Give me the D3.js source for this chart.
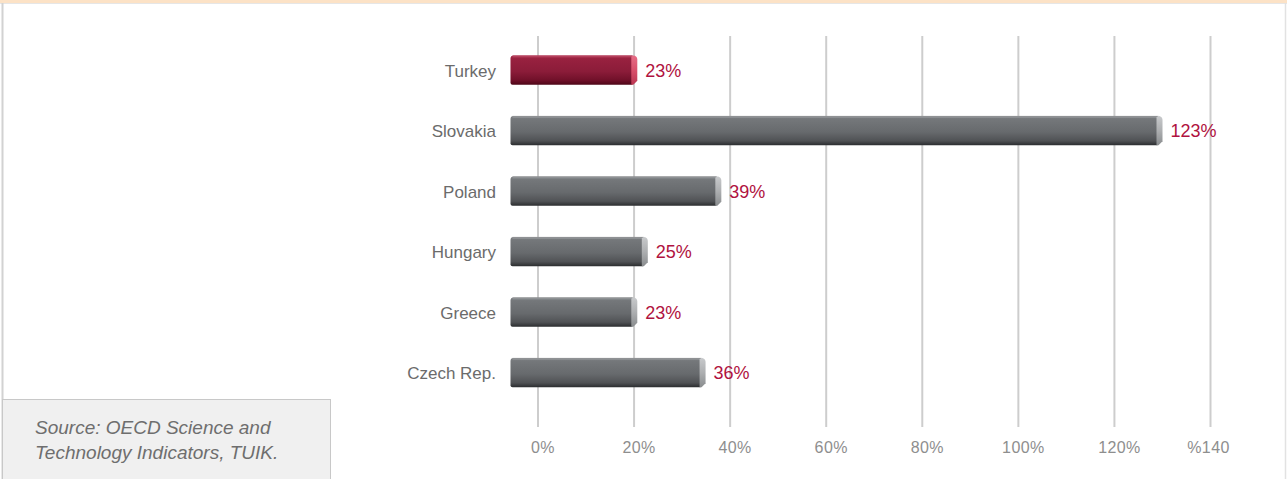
<!DOCTYPE html>
<html lang="en">
<head>
    <meta charset="UTF-8">
    <title>R&D spending growth</title>
    <style>
        body {
            margin: 0;
            background-color: #FFFFFF;
            font-family: "Liberation Sans", Arial, sans-serif;
        }
        svg {
            display: block;
        }
    </style>
</head>
<body>
    <div id="chart"></div>

    <script src="https://cdnjs.cloudflare.com/ajax/libs/d3/7.8.5/d3.min.js"></script>
    <script>
        // Data
        const countries = ["Turkey", "Slovakia", "Poland", "Hungary", "Greece", "Czech Rep."];
        const values = [23, 123, 39, 25, 23, 36];
        const tickValues = [0, 20, 40, 60, 80, 100, 120, 140];
        const tickLabels = ["0%", "20%", "40%", "60%", "80%", "100%", "120%", "%140"];
        const highlight = "Turkey";
        const sourceLines = ["Source: OECD Science and", "Technology Indicators, TUIK."];

        const width = 1287;
        const height = 479;

        const svg = d3.select("#chart")
            .append("svg")
            .attr("width", width)
            .attr("height", height);

        // frame: peach strip on top, thin gray borders
        svg.append("rect").attr("x", 0).attr("y", 0).attr("width", width).attr("height", 3).attr("fill", "#FCE2C6");
        svg.append("line").attr("x1", 0).attr("x2", width).attr("y1", 3.5).attr("y2", 3.5).attr("stroke", "#E6E6E6");
        svg.append("line").attr("x1", 2.5).attr("x2", 2.5).attr("y1", 3).attr("y2", height).attr("stroke", "#D2D2D2").attr("stroke-width", 2);
        svg.append("line").attr("x1", 1285.5).attr("x2", 1285.5).attr("y1", 3).attr("y2", height).attr("stroke", "#E2E2E2").attr("stroke-width", 1.5);

        // gradients
        const defs = svg.append("defs");
        function vGrad(id, stops) {
            const g = defs.append("linearGradient").attr("id", id)
                .attr("x1", 0).attr("x2", 0).attr("y1", 0).attr("y2", 1);
            stops.forEach(s => g.append("stop").attr("offset", s[0]).attr("stop-color", s[1]));
        }
        vGrad("grayFront", [[0, "#7E8184"], [0.12, "#74777A"], [0.55, "#676A6D"], [0.85, "#505255"], [1, "#2C2E30"]]);
        vGrad("graySide", [[0, "#C8CACC"], [0.5, "#ADAFB1"], [1, "#8A8D8F"]]);
        vGrad("redFront", [[0, "#A52B4A"], [0.12, "#98213F"], [0.55, "#8B1C39"], [0.85, "#701029"], [1, "#4F0718"]]);
        vGrad("redSide", [[0, "#E66D86"], [0.5, "#D9506B"], [1, "#BA3651"]]);

        // scales
        const x = d3.scaleLinear().domain([0, 140]).range([538, 1210.5]);
        // bars in the original are drawn on their own length scale
        const barLen = d3.scaleLinear().domain([0, 123]).range([0, 646]);
        const barX0 = 510.5;
        const y = d3.scaleBand().domain(countries).range([40.25, 403.25])
            .paddingInner(0.5).paddingOuter(0.25);

        // gridlines
        svg.append("g")
            .selectAll("line")
            .data(tickValues)
            .join("line")
            .attr("x1", d => x(d))
            .attr("x2", d => x(d))
            .attr("y1", 36)
            .attr("y2", 427)
            .attr("stroke", "#CDCDCD")
            .attr("stroke-width", 2);

        // tick labels
        svg.append("g")
            .selectAll("text")
            .data(tickValues)
            .join("text")
            .attr("x", (d, i) => x(d) + (i === tickValues.length - 1 ? -2 : 5))
            .attr("y", 453)
            .attr("text-anchor", "middle")
            .attr("font-size", "16px")
            .attr("letter-spacing", "0.4px")
            .attr("fill", "#8E8E8E")
            .text((d, i) => tickLabels[i]);

        // bars
        const depth = 6;
        const bars = svg.append("g")
            .selectAll("g")
            .data(countries)
            .join("g");

        bars.each(function(c, i) {
            const g = d3.select(this);
            const isHi = c === highlight;
            const top = y(c);
            const bw = y.bandwidth();
            const bot = top + bw - 1;
            const xe = barX0 + barLen(values[i]);

            // front face
            g.append("path")
                .attr("d", `M${barX0},${top + 3} Q${barX0},${top} ${barX0 + 3},${top} L${xe + 1},${top} L${xe + 1},${bot} L${barX0 + 2},${bot} Q${barX0},${bot} ${barX0},${bot - 2} Z`)
                .attr("fill", isHi ? "url(#redFront)" : "url(#grayFront)");

            // top highlight
            g.append("rect")
                .attr("x", barX0 + 2)
                .attr("y", top)
                .attr("width", xe - barX0)
                .attr("height", 2)
                .attr("fill", isHi ? "#BA4661" : "#939699")
                .attr("opacity", 0.8);

            // right cap
            g.append("path")
                .attr("d", `M${xe},${top + 1} L${xe + 3},${top} Q${xe + depth},${top + 1} ${xe + depth},${top + 4} L${xe + depth},${bot - 4} L${xe + 2},${bot} L${xe},${bot} Z`)
                .attr("fill", isHi ? "url(#redSide)" : "url(#graySide)");

            // value label
            g.append("text")
                .attr("x", xe + depth + 8)
                .attr("y", top + bw / 2)
                .attr("dy", "0.36em")
                .attr("font-size", "18px")
                .attr("fill", "#B01240")
                .text(values[i] + "%");
        });

        // category labels
        svg.append("g")
            .selectAll("text")
            .data(countries)
            .join("text")
            .attr("x", 496)
            .attr("y", d => y(d) + y.bandwidth() / 2)
            .attr("dy", "0.36em")
            .attr("text-anchor", "end")
            .attr("font-size", "17px")
            .attr("fill", "#6B6B6B")
            .text(d => d);

        // source box
        svg.append("rect")
            .attr("x", 2.5)
            .attr("y", 399.5)
            .attr("width", 328)
            .attr("height", 82)
            .attr("fill", "#F0F0F0")
            .attr("stroke", "#C8C8C8");

        svg.append("g")
            .selectAll("text")
            .data(sourceLines)
            .join("text")
            .attr("x", 35)
            .attr("y", (d, i) => 434 + i * 25)
            .attr("font-size", "19px")
            .attr("font-style", "italic")
            .attr("fill", "#6E6E6E")
            .text(d => d);
    </script>
</body>
</html>
